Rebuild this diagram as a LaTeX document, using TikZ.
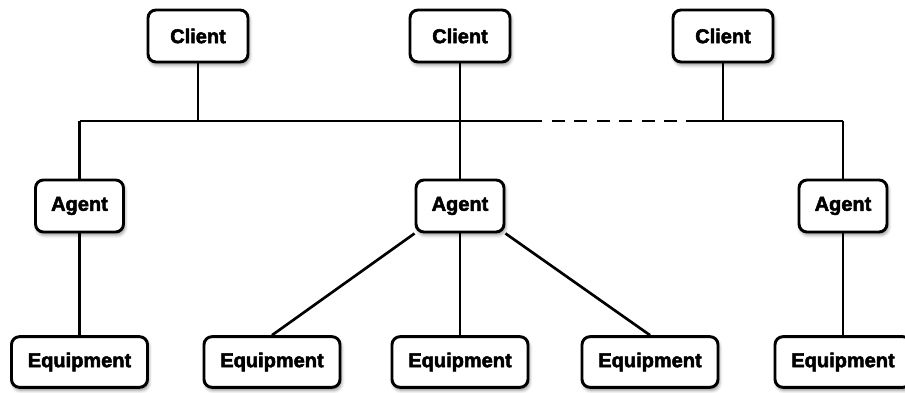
\documentclass[tikz,border=0pt]{standalone}
\usepackage{fontspec}
\setmainfont{Liberation Sans}[BoldFeatures={FakeBold=2.6}]
\usetikzlibrary{backgrounds,shadows.blur}

\tikzset{
  box/.style={draw=black, line width=2.2pt, rounded corners=6pt, fill=white,
    font=\bfseries\fontsize{15pt}{17pt}\selectfont, inner sep=0pt,
    blur shadow={shadow xshift=1pt, shadow yshift=-2.2pt, shadow blur radius=2.5pt, shadow opacity=45}},
  clientbox/.style={box, minimum width=75pt, minimum height=39pt},
  agentbox/.style={box, minimum width=66pt, minimum height=39pt},
  equipbox/.style={box, minimum width=102pt, minimum height=38pt},
  link/.style={line width=2pt, line cap=butt}
}

\begin{document}
\begin{tikzpicture}[x=0.75pt, y=-0.75pt]
\useasboundingbox (0,0) rectangle (905,392);

% clients
\node[clientbox] (c1) at (198,36) {Client};
\node[clientbox] (c2) at (460,36) {Client};
\node[clientbox] (c3) at (723,36) {Client};

% agents
\node[agentbox] (a1) at (79.5,206) {Agent};
\node[agentbox] (a2) at (460,206) {Agent};
\node[agentbox] (a3) at (843,206) {Agent};

% equipment
\node[equipbox] (e1) at (79.5,362) {Equipment};
\node[equipbox] (e2) at (272,362) {Equipment};
\node[equipbox] (e3) at (460,362) {Equipment};
\node[equipbox] (e4) at (650,362) {Equipment};
\node[equipbox] (e5) at (843,362) {Equipment};

% bus junctions
\coordinate (busL) at (79.5,121);
\coordinate (busR) at (843,121);
\coordinate (gapA) at (542,121);
\coordinate (dashA) at (552,121);
\coordinate (dashB) at (677,121);
\coordinate (gapB) at (686,121);

\begin{scope}[on background layer]
  % shared bus with an elided stretch
  \draw[link] (busL) -- (gapA);
  \draw[link, dash pattern=on 9.75pt off 7.1pt] (dashA) -- (dashB);
  \draw[link] (gapB) -- (busR);
  % clients onto the bus
  \draw[link] (c1) -- (c1 |- busL);
  \draw[link] (c2) -- (a2);
  \draw[link] (c3) -- (c3 |- busL);
  % agents hanging from the bus
  \draw[link] (a1) -- (busL);
  \draw[link] (a3) -- (busR);
  % agents to equipment
  \draw[link] (a1) -- (e1);
  \draw[link] (a3) -- (e5);
  \draw[link] (a2.south west) -- (e2.north);
  \draw[link] (a2) -- (e3);
  \draw[link] (a2.south east) -- (e4.north);
\end{scope}
\end{tikzpicture}
\end{document}
